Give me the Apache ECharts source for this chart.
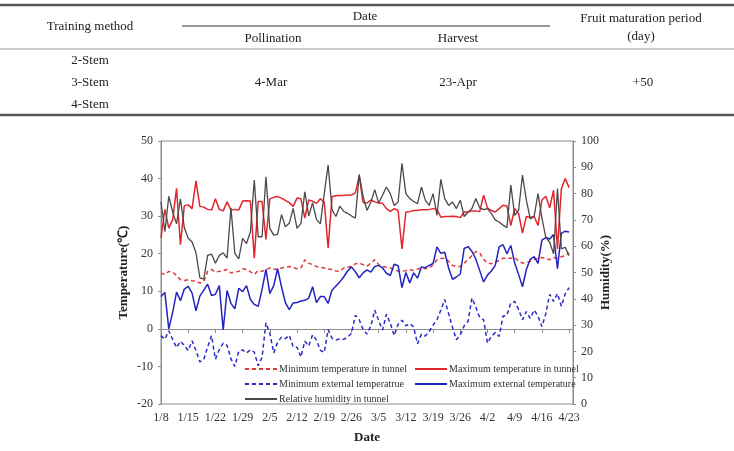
<!DOCTYPE html>
<html>
<head>
<meta charset="utf-8">
<script src="https://cdn.jsdelivr.net/npm/echarts@6/dist/echarts.min.js"></script>
<style>
html,body{margin:0;padding:0;background:#fff;}
#chart{width:734px;height:451px;}
</style>
</head>
<body>
<div id="chart"></div>
<script>
// ---- Table content ----
const tableHeaderMethod = 'Training method';
const tableHeaderDate = 'Date';
const tableHeaderSub = ['Pollination', 'Harvest'];
const tableHeaderPeriod = ['Fruit maturation period', '(day)'];
const tableMethods = ['2-Stem', '3-Stem', '4-Stem'];
const tablePollination = '4-Mar';
const tableHarvest = '23-Apr';
const tablePeriod = '+50';

// ---- Chart data (daily, 1/8 .. 4/23) ----
const tickLabels = ['1/8','1/15','1/22','1/29','2/5','2/12','2/19','2/26','3/5','3/12','3/19','3/26','4/2','4/9','4/16','4/23'];
const seriesNames = ['Minimum temperature in tunnel','Maximum temperature in tunnel','Minimum external temperatrue','Maximum external temperature','Relative humidity in tunnel'];

const minTunnel = [14.9,14.4,15.3,15.1,14.2,13.1,12.9,13.1,12.8,12.7,12.2,12.6,15.3,15.8,15.1,15.3,15.5,15.8,14.9,15.1,
  15.3,16,15.8,15.2,14.5,15.5,15.3,15.8,16.2,15.9,15.8,16.2,16.4,16.6,16.3,16,16.2,18.4,17.5,17.1,
  16.6,16.4,16.2,15.9,15.8,15.4,15.3,16.2,16.4,16.6,17.3,17.5,17.1,16.7,17.5,18.4,17.1,16.6,16.4,16.2,
  15.8,15.4,15.3,15.5,15.8,15.5,15.9,16.2,16,16.2,17,18.4,18.7,18.8,18,16.9,16.6,16.6,17.5,18.4,
  19.5,20.6,20.2,18.5,17.5,17.3,17.8,18.2,18.8,18.8,18.8,19,18,17.5,17.6,18,18.5,18.8,19,18.7,
  18.4,19,18.8,19.2,19.5,20.2];
const maxTunnel = [24.2,31.8,26.8,29,37.4,22.4,32.8,33,32,39.4,32.6,32.4,31.8,31.6,34.6,31.8,31.4,33.8,31.6,31.8,
  31.6,34,34.1,34,18.8,33.9,33.9,23.8,34.6,35,35.2,34.8,34.2,33.6,32.6,34.8,34.6,29.5,34.3,34,
  33.4,34.6,33.8,21.5,35.2,35.4,35.5,35.5,35.6,35.6,36.2,40.7,33.6,33.5,34.3,33.8,33.5,33.4,32,31.3,
  32,31.5,21.3,31.1,31.2,31.5,31.5,31.7,31.7,31.8,32,31.8,29.7,29.9,29.9,30,29.9,29.6,31.1,31.1,
  31.4,31.4,31.2,35.6,32.2,31.5,31.1,32,32.9,32.7,27.5,32,30.7,25.5,29.9,29.7,29.9,27.5,34.3,35.3,
  32.2,36.9,21.3,37.3,40,37.6];
const minExternal = [-1.8,-2.8,-0.5,-2.8,-5,-3.3,-4.4,-5.8,-3.2,-5.8,-8.8,-8.2,-4.8,-1.8,-8.1,-5.5,-3.8,-4.4,-8,-10,
  -6,-5.6,-6.4,-5.6,-6.2,-9.8,-7.6,1.6,-1.2,-6.4,-3.6,-2.2,-2.6,-1.7,-4.8,-4.9,-7.5,-3.3,-4.6,-1.6,
  -3,-5.7,-6.3,-0.2,-2.5,-3,-2.6,-2.8,-2.2,-1.2,3.6,2.4,-0.2,-1.4,0.8,5,2.2,-0.3,3.9,1.4,
  -1.8,1.2,2.3,0.8,1.4,0.5,-4,-1.4,-1.9,-0.7,1,2.4,5,7.8,4,0.4,-2.9,-1.6,0.8,2,
  8.2,5.8,3,2.4,-3.8,-2,-1,-2,3.4,3.6,6.9,7.3,5.2,2.4,4.6,2.8,5,3.4,0.6,4,
  9.2,7.3,9.4,6,9.3,11];
const maxExternal = [8.6,9.7,0,4.4,9.8,7.5,10.6,11.3,9.5,4.8,8.7,10.3,11.9,8.9,9.2,11.5,-0.3,10.2,6.8,5.3,
  10.8,9.9,11.5,7.8,6.5,6,10.5,15.8,9.4,11.5,16,11.2,7,5.1,6.9,7,7.4,7.6,8.2,11.2,
  7,8.6,8.6,6.8,10.3,11.4,12.5,13.8,15.4,16.5,15.2,13.6,14.9,15.7,15.1,16.6,16.9,16.2,14.8,14.2,
  17.2,16.8,11,15,12.2,14.9,13.5,16.5,16.3,16.9,17.4,21.8,20.1,20.4,16.2,13.2,13.8,14.6,21.4,21.9,
  20.6,18.6,15.5,12.5,14.3,15.4,16.9,21.8,22.4,20,22.2,17.5,14.5,11.2,15.8,18.5,19.2,17.4,23.6,24.3,
  23.9,25.1,16,25.4,26,25.8];
const humidity = [76.9,65.5,79,73,68.5,78,67,63,61.6,57.5,48,47.5,56.5,57,53.5,56.5,57.5,55.5,74.5,57.3,
  55.2,63,61,65.5,85.2,63.6,63.6,86.4,66.8,64.2,64.5,72,67.4,68.7,74.4,66.8,68.7,80.7,71.5,76.5,
  70.2,68.5,80,90.9,73.8,71.3,75.2,73.3,72.5,71.5,70.7,87.3,78.8,73.6,76.8,81.5,76.4,79.4,82.5,80,
  75.5,76.8,91.5,80,78.1,77,76.2,82.5,77.5,75.5,80,71.7,85.4,78.1,75.5,76.8,74.3,77.5,71.3,73,
  74.3,78.1,74.6,73.9,74.3,72.4,70,69.2,68,67,83.2,71.7,73.6,87,77.5,70.4,71.3,80,70.8,63.4,
  61.5,57.1,81.9,59,59.6,56.4];

// daily date categories from the first tick label (one spare day at the end)
const categories = [];
(function(){
  const d0 = new Date(2015, 0, 8);
  for (let i = 0; i <= humidity.length; i++) {
    const d = new Date(d0.getTime() + i * 86400000);
    categories.push((d.getMonth() + 1) + '/' + d.getDate());
  }
})();

const SERIF = '"Liberation Serif", "Times New Roman", serif';
const chart = echarts.init(document.getElementById('chart'));

function txt(text, x, y, size, weight) {
  return {
    type: 'text',
    style: {
      text: text, x: x, y: y, fill: '#222',
      font: (weight || 'normal') + ' ' + size + 'px ' + SERIF,
      align: 'center', verticalAlign: 'middle',
      textAlign: 'center', textVerticalAlign: 'middle'
    }
  };
}
function hline(x1, x2, y, w, c) {
  return { type: 'line', shape: { x1: x1, y1: y, x2: x2, y2: y }, style: { stroke: c, lineWidth: w } };
}

const graphics = [
  hline(0, 734, 5, 2.5, '#555'),
  hline(182, 550, 26, 1, '#333'),
  hline(0, 734, 49, 1, '#999'),
  hline(0, 734, 115, 2.5, '#555'),
  txt(tableHeaderMethod, 90, 27, 13),
  txt(tableHeaderDate, 365, 17, 13),
  txt(tableHeaderSub[0], 273, 39, 13),
  txt(tableHeaderSub[1], 458, 39, 13),
  txt(tableHeaderPeriod[0], 641, 19, 13),
  txt(tableHeaderPeriod[1], 641, 37, 13),
  txt(tableMethods[0], 90, 61, 13),
  txt(tableMethods[1], 90, 83, 13),
  txt(tableMethods[2], 90, 105, 13),
  txt(tablePollination, 271, 83, 13),
  txt(tableHarvest, 458, 83, 13),
  txt(tablePeriod, 643, 83, 13)
];

function legendAt(name, left, top) {
  return {
    data: [name], left: left, top: top, padding: 0,
    itemWidth: 32, itemHeight: 10, itemGap: 0, selectedMode: false,
    itemStyle: { opacity: 0 },
    textStyle: { fontFamily: SERIF, fontSize: 10, color: '#333', padding: [0, 0, 0, -3] }
  };
}

const axisLineStyle = { lineStyle: { color: '#8c8c8c', width: 1 } };
const labelStyle = { fontFamily: SERIF, fontSize: 12, color: '#333' };
const nameStyle = { fontFamily: SERIF, fontSize: 13, fontWeight: 'bold', color: '#222' };

chart.setOption({
  animation: false,
  backgroundColor: '#fff',
  graphic: graphics,
  grid: { left: 161, right: 161, top: 141, bottom: 47, show: true, borderColor: '#8c8c8c', borderWidth: 1 },
  legend: [
    legendAt(seriesNames[0], 244, 364),
    legendAt(seriesNames[1], 414, 364),
    legendAt(seriesNames[2], 244, 379),
    legendAt(seriesNames[3], 414, 379),
    legendAt(seriesNames[4], 244, 394)
  ],
  xAxis: {
    type: 'category', data: categories, boundaryGap: false,
    name: 'Date', nameLocation: 'middle', nameGap: 27, nameMoveOverlap: false, nameTextStyle: nameStyle,
    axisLine: axisLineStyle,
    axisTick: { show: true, interval: 6, length: 4, inside: false, lineStyle: { color: '#8c8c8c' } },
    axisLabel: Object.assign({ interval: 6, margin: 8 }, labelStyle),
    splitLine: { show: false }
  },
  yAxis: [
    {
      type: 'value', min: -20, max: 50, interval: 10, position: 'left',
      name: 'Temperature(℃)', nameLocation: 'middle', nameGap: 31, nameRotate: 90, nameMoveOverlap: false, nameTextStyle: nameStyle,
      axisLine: Object.assign({ show: true }, axisLineStyle),
      axisTick: { show: true, length: 3, lineStyle: { color: '#8c8c8c' } },
      axisLabel: Object.assign({ margin: 8 }, labelStyle),
      splitLine: { show: false }
    },
    {
      type: 'value', min: 0, max: 100, interval: 10, position: 'right',
      name: 'Humidity(%)', nameLocation: 'middle', nameGap: 26, nameRotate: 90, nameMoveOverlap: false, nameTextStyle: nameStyle,
      axisLine: Object.assign({ show: true }, axisLineStyle),
      axisTick: { show: true, length: 3, lineStyle: { color: '#8c8c8c' } },
      axisLabel: Object.assign({ margin: 8 }, labelStyle),
      splitLine: { show: false }
    }
  ],
  series: [
    { name: seriesNames[0], type: 'line', data: minTunnel, symbol: 'none', yAxisIndex: 0,
      lineStyle: { color: '#e0393c', width: 1.5, type: [4, 3] }, itemStyle: { color: '#e0393c' } },
    { name: seriesNames[1], type: 'line', data: maxTunnel, symbol: 'none', yAxisIndex: 0,
      lineStyle: { color: '#e0262b', width: 1.5 }, itemStyle: { color: '#e0262b' } },
    { name: seriesNames[2], type: 'line', data: minExternal, symbol: 'none', yAxisIndex: 0,
      lineStyle: { color: '#2b2bc8', width: 1.5, type: [4, 3] }, itemStyle: { color: '#2b2bc8' } },
    { name: seriesNames[3], type: 'line', data: maxExternal, symbol: 'none', yAxisIndex: 0,
      lineStyle: { color: '#2323c0', width: 1.5 }, itemStyle: { color: '#2323c0' } },
    { name: seriesNames[4], type: 'line', data: humidity, symbol: 'none', yAxisIndex: 1,
      lineStyle: { color: '#4a4a4a', width: 1.3 }, itemStyle: { color: '#4a4a4a' } }
  ]
});
</script>
</body>
</html>
